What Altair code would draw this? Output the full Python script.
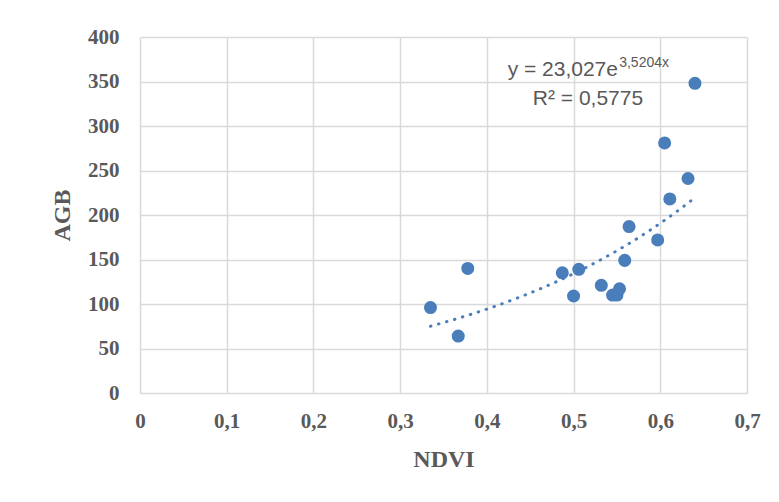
import altair as alt
import pandas as pd

# ---- data ----
ndvi = [0.335, 0.367, 0.378, 0.487, 0.500, 0.506, 0.532, 0.545, 0.550, 0.553,
        0.559, 0.564, 0.597, 0.605, 0.611, 0.632, 0.640]
agb = [96, 64, 140, 135, 109, 139, 121, 110, 110, 117,
       149, 187, 172, 281, 218, 241, 348]

x_ticks = [0, 0.1, 0.2, 0.3, 0.4, 0.5, 0.6, 0.7]
y_ticks = [0, 50, 100, 150, 200, 250, 300, 350, 400]

eq_main = "y = 23,027e"
eq_sup = "3,5204x"
r2_text = "R² = 0,5775"

BLUE = "#4a7ebb"
GRAY_TEXT = "#595959"
GRID = "#d9d9d9"
N_SAMPLES = 60

df = pd.DataFrame({"NDVI": ndvi, "AGB": agb})

x_scale = alt.Scale(domain=[0, 0.7], nice=False, zero=True)
y_scale = alt.Scale(domain=[0, 400], nice=False, zero=True)

x_axis = alt.Axis(
    values=x_ticks, title="NDVI",
    labelExpr="datum.value == 0 ? '0' : replace(format(datum.value, '.1f'), '.', ',')",
    labelPadding=17, titlePadding=16, labelFlush=False,
)
y_axis = alt.Axis(values=y_ticks, title="AGB", labelPadding=21, titlePadding=13)

points = alt.Chart(df).mark_circle(size=170, color=BLUE, opacity=1).encode(
    x=alt.X("NDVI:Q", scale=x_scale, axis=x_axis),
    y=alt.Y("AGB:Q", scale=y_scale, axis=y_axis),
)

# Exponential trendline: least squares on log(AGB) (spreadsheet-style), computed in Vega
sample_idx = "[" + ",".join(str(i) for i in range(N_SAMPLES + 1)) + "]"
trend = (
    alt.Chart(df)
    .transform_calculate(
        ly="log(datum.AGB)",
        xly="datum.NDVI * log(datum.AGB)",
        x2="datum.NDVI * datum.NDVI",
    )
    .transform_aggregate(
        mx="mean(NDVI)", my="mean(ly)", mxy="mean(xly)", mx2="mean(x2)",
        xmin="min(NDVI)", xmax="max(NDVI)",
    )
    .transform_calculate(b="(datum.mxy - datum.mx * datum.my) / (datum.mx2 - datum.mx * datum.mx)")
    .transform_calculate(a="datum.my - datum.b * datum.mx")
    .transform_calculate(steps=sample_idx)
    .transform_flatten(["steps"])
    .transform_calculate(xx=f"datum.xmin + (datum.xmax - datum.xmin) * datum.steps / {N_SAMPLES}")
    .transform_calculate(yy="exp(datum.a + datum.b * datum.xx)")
    .mark_line(color=BLUE, strokeWidth=3, strokeDash=[0.5, 7.8], strokeCap="round")
    .encode(
        x=alt.X("xx:Q", scale=x_scale),
        y=alt.Y("yy:Q", scale=y_scale),
        order="steps:Q",
    )
)

text_main = alt.Chart(pd.DataFrame({"label": [eq_main]})).mark_text(
    align="right", baseline="alphabetic", font="Liberation Sans",
    fontSize=21, color=GRAY_TEXT,
).encode(x=alt.datum(0.5512), y=alt.datum(356.2), text="label:N")

text_sup = alt.Chart(pd.DataFrame({"label": [eq_sup]})).mark_text(
    align="left", baseline="alphabetic", font="Liberation Sans",
    fontSize=14, color=GRAY_TEXT,
).encode(x=alt.datum(0.5526), y=alt.datum(366.6), text="label:N")

text_r2 = alt.Chart(pd.DataFrame({"label": [r2_text]})).mark_text(
    align="center", baseline="alphabetic", font="Liberation Sans",
    fontSize=21, color=GRAY_TEXT,
).encode(x=alt.datum(0.5166), y=alt.datum(323.6), text="label:N")

chart = (
    alt.layer(trend, points, text_main, text_sup, text_r2)
    .properties(width=607, height=356,
                padding={"left": 42, "top": 18, "right": 10, "bottom": 10})
    .configure_view(stroke=None)
    .configure_axis(
        domain=False, ticks=False,
        grid=True, gridColor=GRID, gridWidth=1.5,
        labelFont="Liberation Serif", labelFontSize=21, labelFontWeight="bold",
        labelColor=GRAY_TEXT,
        titleFont="Liberation Serif", titleFontSize=24, titleFontWeight="bold",
        titleColor=GRAY_TEXT,
    )
)

chart.save("out.html", embed_options={"renderer": "svg", "actions": False})
